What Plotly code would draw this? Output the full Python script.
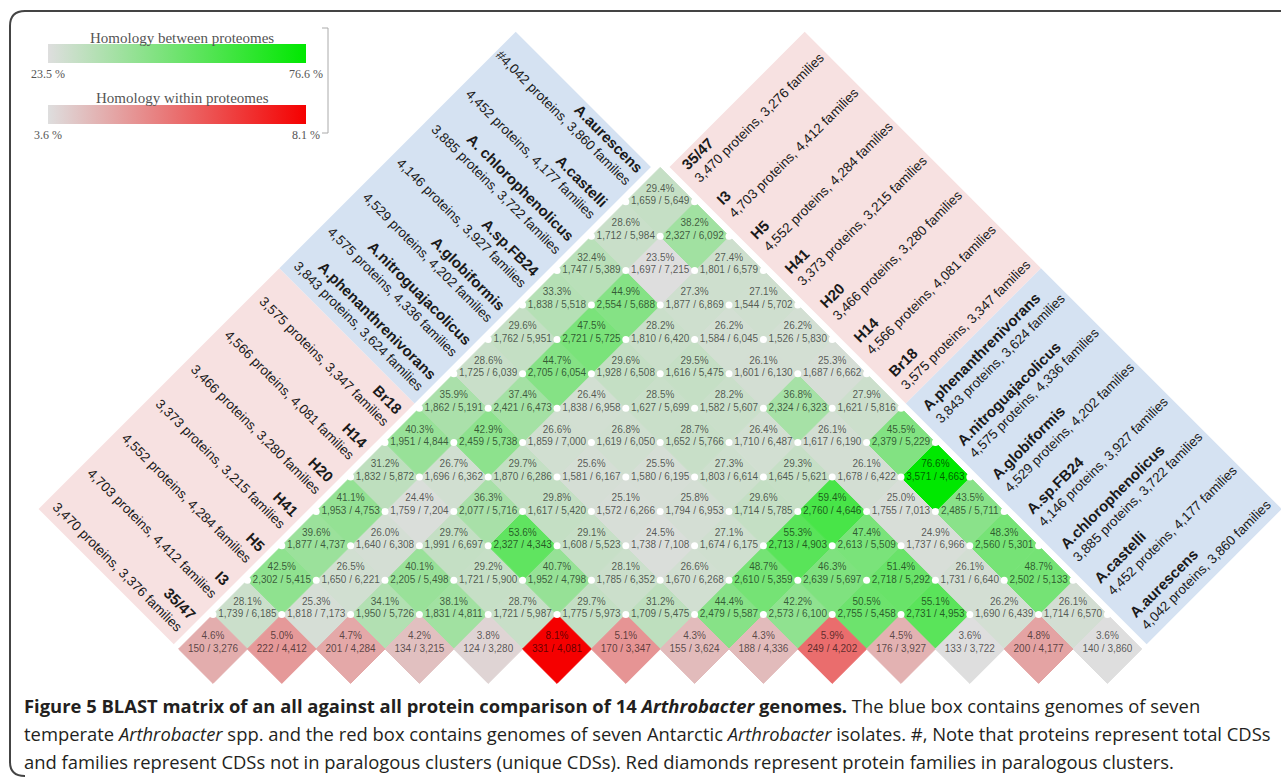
import plotly.graph_objects as go

# ---------------------------------------------------------------- data
genomes = ["35/47", "I3", "H5", "H41", "H20", "H14", "Br18",
           "A.phenanthrenivorans", "A.nitroguajacolicus", "A.globiformis",
           "A.sp.FB24", "A.chlorophenolicus", "A.castelli", "A.aurescens"]

# labels on the left flank (genome j, read down-right)
left_names = ["35/47", "I3", "H5", "H41", "H20", "H14", "Br18",
              "A.phenanthrenivorans", "A.nitroguajacolicus", "A.globiformis",
              "A.sp.FB24", "A. chlorophenolicus", "A.castelli", "A.aurescens"]
left_info = ["3,470 proteins, 3,376 families", "4,703 proteins, 4,412 families",
             "4,552 proteins, 4,284 families", "3,373 proteins, 3,215 families",
             "3,466 proteins, 3,280 families", "4,566 proteins, 4,081 families",
             "3,575 proteins, 3,347 families", "3,843 proteins, 3,624 families",
             "4,575 proteins, 4,336 families", "4,529 proteins, 4,202 families",
             "4,146 proteins, 3,927 families", "3,885 proteins, 3,722 families",
             "4,452 proteins, 4,177 families", "#4,042 proteins, 3,860 families"]

# labels on the right flank (genome i, read up-right)
right_names = genomes
right_info = ["3,470 proteins, 3,276 families", "4,703 proteins, 4,412 families",
              "4,552 proteins, 4,284 families", "3,373 proteins, 3,215 families",
              "3,466 proteins, 3,280 families", "4,566 proteins, 4,081 families",
              "3,575 proteins, 3,347 families", "3,843 proteins, 3,624 families",
              "4,575 proteins, 4,336 families", "4,529 proteins, 4,202 families",
              "4,146 proteins, 3,927 families", "3,885 proteins, 3,722 families",
              "4,452 proteins, 4,177 families", "4,042 proteins, 3,860 families"]

# homology within proteomes (paralogous families / families)
within_pct = [4.6, 5.0, 4.7, 4.2, 3.8, 8.1, 5.1, 4.3, 4.3, 5.9, 4.5, 3.6, 4.8, 3.6]
within_hit = [150, 222, 201, 134, 124, 331, 170, 155, 188, 249, 176, 133, 200, 140]
within_fam = [3276, 4412, 4284, 3215, 3280, 4081, 3347, 3624, 4336, 4202, 3927, 3722, 4177, 3860]

# homology between proteomes; list k holds the pairs (i, i+k), i = 0, 1, ...
pct_1 = [28.1, 25.3, 34.1, 38.1, 28.7, 29.7, 31.2, 44.4, 42.2, 50.5, 55.1, 26.2, 26.1]
hit_1 = [1739, 1818, 1950, 1831, 1721, 1775, 1709, 2479, 2573, 2755, 2731, 1690, 1714]
fam_1 = [6185, 7173, 5726, 4811, 5987, 5973, 5475, 5587, 6100, 5458, 4953, 6439, 6570]

pct_2 = [42.5, 26.5, 40.1, 29.2, 40.7, 28.1, 26.6, 48.7, 46.3, 51.4, 26.1, 48.7]
hit_2 = [2302, 1650, 2205, 1721, 1952, 1785, 1670, 2610, 2639, 2718, 1731, 2502]
fam_2 = [5415, 6221, 5498, 5900, 4798, 6352, 6268, 5359, 5697, 5292, 6640, 5133]

pct_3 = [39.6, 26.0, 29.7, 53.6, 29.1, 24.5, 27.1, 55.3, 47.4, 24.9, 48.3]
hit_3 = [1877, 1640, 1991, 2327, 1608, 1738, 1674, 2713, 2613, 1737, 2560]
fam_3 = [4737, 6308, 6697, 4343, 5523, 7108, 6175, 4903, 5509, 6966, 5301]

pct_4 = [41.1, 24.4, 36.3, 29.8, 25.1, 25.8, 29.6, 59.4, 25.0, 43.5]
hit_4 = [1953, 1759, 2077, 1617, 1572, 1794, 1714, 2760, 1755, 2485]
fam_4 = [4753, 7204, 5716, 5420, 6266, 6953, 5785, 4646, 7013, 5711]

pct_5 = [31.2, 26.7, 29.7, 25.6, 25.5, 27.3, 29.3, 26.1, 76.6]
hit_5 = [1832, 1696, 1870, 1581, 1580, 1803, 1645, 1678, 3571]
fam_5 = [5872, 6362, 6286, 6167, 6195, 6614, 5621, 6422, 4663]

pct_6 = [40.3, 42.9, 26.6, 26.8, 28.7, 26.4, 26.1, 45.5]
hit_6 = [1951, 2459, 1859, 1619, 1652, 1710, 1617, 2379]
fam_6 = [4844, 5738, 7000, 6050, 5766, 6487, 6190, 5229]

pct_7 = [35.9, 37.4, 26.4, 28.5, 28.2, 36.8, 27.9]
hit_7 = [1862, 2421, 1838, 1627, 1582, 2324, 1621]
fam_7 = [5191, 6473, 6958, 5699, 5607, 6323, 5816]

pct_8 = [28.6, 44.7, 29.6, 29.5, 26.1, 25.3]
hit_8 = [1725, 2705, 1928, 1616, 1601, 1687]
fam_8 = [6039, 6054, 6508, 5475, 6130, 6662]

pct_9 = [29.6, 47.5, 28.2, 26.2, 26.2]
hit_9 = [1762, 2721, 1810, 1584, 1526]
fam_9 = [5951, 5725, 6420, 6045, 5830]

pct_10 = [33.3, 44.9, 27.3, 27.1]
hit_10 = [1838, 2554, 1877, 1544]
fam_10 = [5518, 5688, 6869, 5702]

pct_11 = [32.4, 23.5, 27.4]
hit_11 = [1747, 1697, 1801]
fam_11 = [5389, 7215, 6579]

pct_12 = [28.6, 38.2]
hit_12 = [1712, 2327]
fam_12 = [5984, 6092]

pct_13 = [29.4]
hit_13 = [1659]
fam_13 = [5649]

between_rows = [
    (pct_1, hit_1, fam_1), (pct_2, hit_2, fam_2), (pct_3, hit_3, fam_3),
    (pct_4, hit_4, fam_4), (pct_5, hit_5, fam_5), (pct_6, hit_6, fam_6),
    (pct_7, hit_7, fam_7), (pct_8, hit_8, fam_8), (pct_9, hit_9, fam_9),
    (pct_10, hit_10, fam_10), (pct_11, hit_11, fam_11),
    (pct_12, hit_12, fam_12), (pct_13, hit_13, fam_13),
]

# ---------------------------------------------------------------- geometry / style
W, H = 1281, 778
CELL = 68.8                 # px per diamond width
ORIGIN_X, ORIGIN_Y = 213.0, 649.0   # px centre of the first within-proteome diamond
SANS = "Liberation Sans, Arial, sans-serif"
SERIF = "Liberation Serif, Times New Roman, serif"
CELL_TEXT = "rgba(0,0,0,0.62)"
LEGEND_TEXT = "#555"

GREEN_SCALE = [[0, "rgb(222,222,222)"], [1, "rgb(0,232,0)"]]
RED_SCALE = [[0, "rgb(222,222,222)"], [1, "rgb(245,0,0)"]]
BLUE_BOX = "#d5e2f2"
PINK_BOX = "#f7e1e1"


def fmt(a, b):
    return f"{a:,} / {b:,}"


def px_to_paper(x, y):
    return x / W, 1 - y / H


# diamond (i, j): x = (i + j) / 2, y = (j - i) / 2 in cell units
gx, gy, gpct, gcnt = [], [], [], []
for k, (pcts, hits, fams) in enumerate(between_rows, start=1):
    for i, (p, a, b) in enumerate(zip(pcts, hits, fams)):
        j = i + k
        gx.append((i + j) / 2)
        gy.append((j - i) / 2)
        gpct.append(p)
        gcnt.append(fmt(a, b))

rx = [float(i) for i in range(len(within_pct))]
ry = [0.0] * len(within_pct)
rcnt = [fmt(a, b) for a, b in zip(within_hit, within_fam)]

# white joints at the side corners of the between-proteome diamonds
joints = sorted({(x + s, y) for x, y in zip(gx, gy) for s in (-0.5, 0.5)})

DIAMOND_SIZE = (CELL / 2) / 0.65   # plotly diamond half-diagonal = 0.65 * size
PCT_OFFSET = 12.5 / CELL


def legend_bar(y_px, lo, hi):
    return dict(orientation="h", x=48 / W, xanchor="left",
                y=1 - y_px / H, yanchor="top", len=258, lenmode="pixels",
                thickness=19, thicknessmode="pixels", xpad=0, ypad=0,
                outlinewidth=0, borderwidth=0, ticks="",
                tickvals=[lo, hi], ticktext=[f"{lo} %", f"{hi} %"],
                tickfont=dict(family=SERIF, size=12, color=LEGEND_TEXT))


fig = go.Figure()

fig.add_trace(go.Scatter(
    x=gx, y=gy, mode="markers", hoverinfo="skip", showlegend=False,
    marker=dict(symbol="diamond", size=DIAMOND_SIZE, color=gpct,
                colorscale=GREEN_SCALE, cmin=23.5, cmax=76.6,
                line=dict(width=1, color=gpct, colorscale=GREEN_SCALE, cmin=23.5, cmax=76.6),
                showscale=True, colorbar=legend_bar(44, 23.5, 76.6))))

fig.add_trace(go.Scatter(
    x=rx, y=ry, mode="markers", hoverinfo="skip", showlegend=False,
    marker=dict(symbol="diamond", size=DIAMOND_SIZE, color=within_pct,
                colorscale=RED_SCALE, cmin=3.6, cmax=8.1,
                line=dict(width=1, color=within_pct, colorscale=RED_SCALE, cmin=3.6, cmax=8.1),
                showscale=True, colorbar=legend_bar(105, 3.6, 8.1))))

fig.add_trace(go.Scatter(
    x=[p[0] for p in joints], y=[p[1] for p in joints], mode="markers",
    hoverinfo="skip", showlegend=False,
    marker=dict(symbol="circle", size=7, color="white", line=dict(width=0))))

all_x = gx + rx
all_y = gy + ry
all_pct = [f"{p:.1f}%" for p in gpct + within_pct]
all_cnt = gcnt + rcnt
fig.add_trace(go.Scatter(
    x=all_x, y=[v + PCT_OFFSET for v in all_y], mode="text", text=all_pct,
    textposition="middle center", hoverinfo="skip", showlegend=False,
    textfont=dict(family=SANS, size=10, color=CELL_TEXT)))
fig.add_trace(go.Scatter(
    x=all_x, y=all_y, mode="text", text=all_cnt,
    textposition="middle center", hoverinfo="skip", showlegend=False,
    textfont=dict(family=SANS, size=10, color=CELL_TEXT)))

# ---------------------------------------------------------------- genome boxes
n = len(genomes)
half = n // 2
OUT = 3.93      # box depth in cell units
IN_GAP = 0.14   # white gap between matrix and boxes


def left_xy(u, v):
    return (u + v) / 2, (u - v) / 2


def right_xy(p, q):
    return (p + q) / 2, (q - p) / 2


def poly(points):
    return "M " + " L ".join(f"{x:.4f},{y:.4f}" for x, y in points) + " Z"


v_in, v_out = -0.5 - IN_GAP, -0.5 - OUT - IN_GAP
q_in, q_out = n - 0.5 + IN_GAP, n - 0.5 + OUT + IN_GAP
boxes = [
    (PINK_BOX, [left_xy(u, v) for u, v in [(-0.5, v_out), (half - 0.5, v_out), (half - 0.5, v_in), (-0.5, v_in)]]),
    (BLUE_BOX, [left_xy(u, v) for u, v in [(half - 0.5, v_out), (n - 0.5 - 0.13, v_out), (n - 0.5 - 0.13, v_in), (half - 0.5, v_in)]]),
    (PINK_BOX, [right_xy(p, q) for p, q in [(-0.5 + 0.13, q_in), (half - 0.5, q_in), (half - 0.5, q_out), (-0.5 + 0.13, q_out)]]),
    (BLUE_BOX, [right_xy(p, q) for p, q in [(half - 0.5, q_in), (n - 0.5, q_in), (n - 0.5, q_out), (half - 0.5, q_out)]]),
]
for color, pts in boxes:
    fig.add_shape(type="path", path=poly(pts), xref="x", yref="y",
                  fillcolor=color, line=dict(width=0), layer="below")

NAME_SIZE, INFO_SIZE = 15, 13.5
LEFT_END = -0.75        # where left labels end (cell units across the flank)
RIGHT_START = n - 0.5 + 0.35


def add_label(x, y, text, size, angle, side):
    h = 1.12 * size
    s = 0.354 * h
    if side == "left":   # right end of the rotated line sits on (x, y)
        fig.add_annotation(x=x, y=y, xref="x", yref="y", text=text, textangle=angle,
                           xanchor="right", yanchor="bottom", xshift=s, yshift=-s,
                           showarrow=False, borderpad=0, borderwidth=0,
                           font=dict(family=SANS, size=size, color="#1a1a1a"))
    else:                # left start of the rotated line sits on (x, y)
        fig.add_annotation(x=x, y=y, xref="x", yref="y", text=text, textangle=angle,
                           xanchor="left", yanchor="bottom", xshift=-s, yshift=-s,
                           showarrow=False, borderpad=0, borderwidth=0,
                           font=dict(family=SANS, size=size, color="#1a1a1a"))


for j in range(n):
    x, y = left_xy(j + 0.17, LEFT_END)
    add_label(x, y, f"<b>{left_names[j]}</b>", NAME_SIZE, 45, "left")
    x, y = left_xy(j - 0.2, LEFT_END)
    add_label(x, y, left_info[j], INFO_SIZE, 45, "left")

for i in range(n):
    x, y = right_xy(i - 0.15, RIGHT_START)
    add_label(x, y, f"<b>{right_names[i]}</b>", NAME_SIZE, -45, "right")
    x, y = right_xy(i + 0.22, RIGHT_START)
    add_label(x, y, right_info[i], INFO_SIZE, -45, "right")

# ---------------------------------------------------------------- legend titles & frame
for label, py in [("Homology between proteomes", 38), ("Homology within proteomes", 98)]:
    px, pyp = px_to_paper(182, py)
    fig.add_annotation(x=px, y=pyp, xref="paper", yref="paper", text=label,
                       showarrow=False, xanchor="center", yanchor="middle",
                       font=dict(family=SERIF, size=15, color=LEGEND_TEXT))

bx0, by0 = px_to_paper(322, 28)
bx1, by1 = px_to_paper(328, 133)
fig.add_shape(type="path", xref="paper", yref="paper",
              path=f"M {bx0},{by0} L {bx1},{by0} L {bx1},{by1} L {bx0},{by1}",
              line=dict(color="#aaa", width=1))

frame_pts = [(1281, 11), (25, 11), (10, 11), (10, 26), (10, 762), (10, 776), (25, 776)]
fp = [px_to_paper(x, y) for x, y in frame_pts]
frame_path = (f"M {fp[0][0]},{fp[0][1]} L {fp[1][0]},{fp[1][1]} "
              f"Q {fp[2][0]},{fp[2][1]} {fp[3][0]},{fp[3][1]} "
              f"L {fp[4][0]},{fp[4][1]} Q {fp[5][0]},{fp[5][1]} {fp[6][0]},{fp[6][1]}")
fig.add_shape(type="path", xref="paper", yref="paper", path=frame_path,
              line=dict(color="#444", width=2))

# ---------------------------------------------------------------- caption
caption_lines = [
    "<b>Figure 5 BLAST matrix of an all against all protein comparison of 14 "
    "<i>Arthrobacter</i> genomes.</b> The blue box contains genomes of seven",
    "temperate <i>Arthrobacter</i> spp. and the red box contains genomes of seven "
    "Antarctic <i>Arthrobacter</i> isolates. #, Note that proteins represent total CDSs",
    "and families represent CDSs not in paralogous clusters (unique CDSs). "
    "Red diamonds represent protein families in paralogous clusters.",
]
for line, py in zip(caption_lines, [705, 733, 761]):
    px, pyp = px_to_paper(22, py)
    fig.add_annotation(x=px, y=pyp, xref="paper", yref="paper", text=line,
                       showarrow=False, xanchor="left", yanchor="middle",
                       font=dict(family="Open Sans, sans-serif", size=18.4, color="#231f20"))

fig.update_layout(
    width=W, height=H, margin=dict(l=0, r=0, t=0, b=0),
    paper_bgcolor="white", plot_bgcolor="white", showlegend=False,
    xaxis=dict(range=[-ORIGIN_X / CELL, (W - ORIGIN_X) / CELL], visible=False, fixedrange=True),
    yaxis=dict(range=[(ORIGIN_Y - H) / CELL, ORIGIN_Y / CELL], visible=False, fixedrange=True),
)

fig.write_html("out.html")
